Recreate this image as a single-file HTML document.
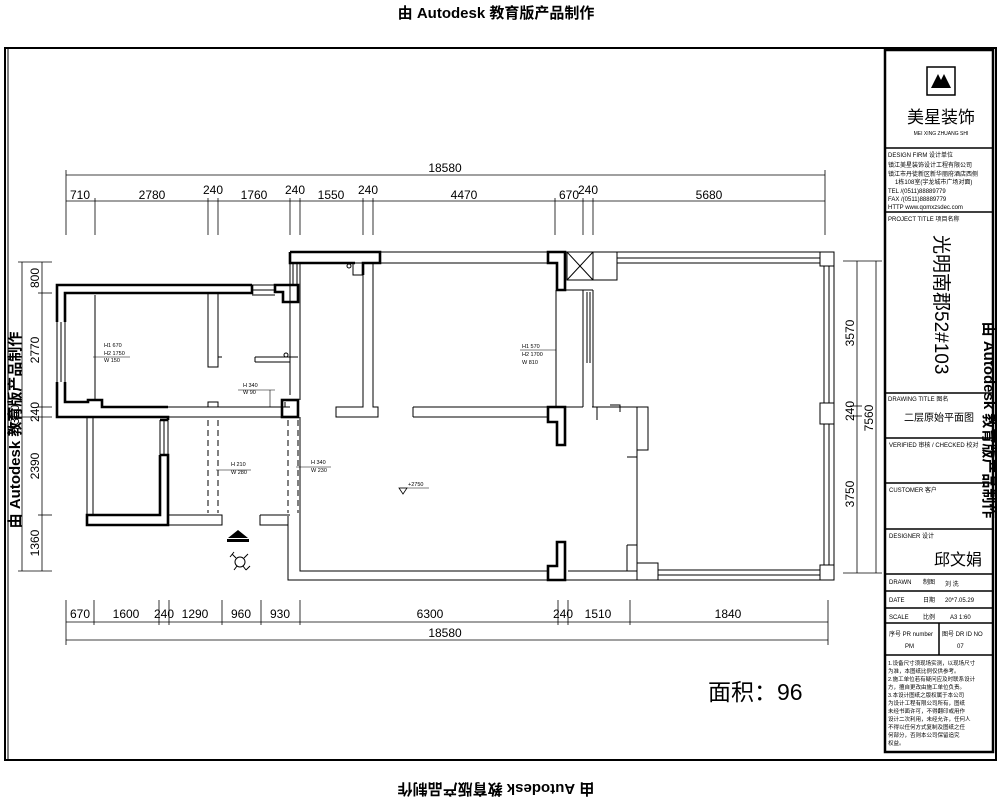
<!DOCTYPE html>
<html><head><meta charset="utf-8">
<style>
html,body{margin:0;padding:0;background:#fff;}
svg{display:block;}
text{font-family:"Liberation Sans","Noto Sans CJK SC",sans-serif;fill:#000;}
.t{font-family:"Liberation Serif","Noto Serif CJK SC",serif;}
</style></head><body>
<svg width="1000" height="800" viewBox="0 0 1000 800" xmlns="http://www.w3.org/2000/svg">
<text x="496" y="18" font-size="15" font-weight="bold" text-anchor="middle">由 Autodesk 教育版产品制作</text>
<text transform="translate(496,784) rotate(180)" font-size="15" font-weight="bold" text-anchor="middle">由 Autodesk 教育版产品制作</text>
<text transform="translate(20,430) rotate(-90)" font-size="15" font-weight="bold" text-anchor="middle">由 Autodesk 教育版产品制作</text>
<text transform="translate(984,420) rotate(90)" font-size="15" font-weight="bold" text-anchor="middle">由 Autodesk 教育版产品制作</text>

<g fill="none" stroke="#000">
<rect x="5" y="48" width="991" height="712" stroke-width="2"/>
<line x1="8" y1="48" x2="8" y2="760" stroke-width="1"/>
<rect x="885" y="50" width="108" height="702" stroke-width="2.5"/>
</g>
<g stroke="#000" stroke-width="1.5">
<line x1="885" y1="148" x2="993" y2="148"/>
<line x1="885" y1="212" x2="993" y2="212"/>
<line x1="885" y1="393" x2="993" y2="393"/>
<line x1="885" y1="438" x2="993" y2="438"/>
<line x1="885" y1="483" x2="993" y2="483"/>
<line x1="885" y1="529" x2="993" y2="529"/>
<line x1="885" y1="574" x2="993" y2="574"/>
<line x1="885" y1="591" x2="993" y2="591"/>
<line x1="885" y1="608" x2="993" y2="608"/>
<line x1="885" y1="623" x2="993" y2="623"/>
<line x1="885" y1="655" x2="993" y2="655"/>
<line x1="939" y1="623" x2="939" y2="655"/>
</g>
<rect x="927" y="67" width="28" height="28" fill="none" stroke="#000" stroke-width="1.5"/>
<path d="M931 88 L938 74 L941 80 L944 74 L951 88 Z" fill="#000"/>
<text x="941" y="123" font-size="17" text-anchor="middle">美星装饰</text>
<text x="941" y="135" font-size="5" text-anchor="middle">MEI XING ZHUANG SHI</text>
<g font-size="6">
<text x="888" y="157">DESIGN FIRM 设计单位</text>
<text x="888" y="167">镇江美星装饰设计工程有限公司</text>
<text x="888" y="176">镇江市丹徒新区新华丽府酒店西侧</text>
<text x="895" y="184">1栋108室(宇龙城市广场对面)</text>
<text x="888" y="193">TEL /(0511)88889779</text>
<text x="888" y="201">FAX /(0511)88889779</text>
<text x="888" y="209">HTTP www.qomxzsdec.com</text>
<text x="888" y="221">PROJECT TITLE 项目名称</text>
<text x="888" y="401">DRAWING TITLE 图名</text>
<text x="889" y="447">VERIFIED 审核 / CHECKED 校对</text>
<text x="889" y="492">CUSTOMER 客户</text>
<text x="889" y="538">DESIGNER 设计</text>
<text x="889" y="584">DRAWN</text><text x="923" y="584">制图</text><text x="945" y="586">刘 洗</text>
<text x="889" y="602">DATE</text><text x="923" y="602">日期</text><text x="945" y="602">20*7.05.29</text>
<text x="889" y="619">SCALE</text><text x="923" y="619">比例</text><text x="950" y="619">A3 1:60</text>
<text x="889" y="636">序号 PR number</text><text x="942" y="636">图号 DR ID NO</text>
<text x="905" y="648">PM</text><text x="957" y="648">07</text>
</g>
<text transform="translate(935,235) rotate(90)" font-size="19">光明南郡52#103</text>
<text x="939" y="421" font-size="10" text-anchor="middle">二层原始平面图</text>
<text x="958" y="565" font-size="16" text-anchor="middle">邱文娟</text>
<g font-size="5.5">
<text x="888" y="665">1.设备尺寸须现场实测，以现场尺寸</text>
<text x="888" y="673">为准，本图纸比例仅供参考。</text>
<text x="888" y="681">2.施工单位若有疑问应及时联系设计</text>
<text x="888" y="689">方，擅自更改由施工单位负责。</text>
<text x="888" y="697">3.本设计图纸之版权属于本公司</text>
<text x="888" y="705">为设计工程有限公司所有，图纸</text>
<text x="888" y="713">未经书面许可，不得翻印或用作</text>
<text x="888" y="721">设计二次利用，未经允许，任何人</text>
<text x="888" y="729">不得以任何方式复制及图纸之任</text>
<text x="888" y="737">何部分，否则本公司保留追究</text>
<text x="888" y="745">权益。</text>
</g>
<text x="708" y="700" font-size="23">面积：96</text>

<g stroke="#000" stroke-width="0.8" fill="none">
<line x1="66" y1="175" x2="825" y2="175"/>
<line x1="66" y1="201" x2="825" y2="201"/>
<line x1="66" y1="170" x2="66" y2="235"/><line x1="825" y1="170" x2="825" y2="235"/>
<line x1="95" y1="198" x2="95" y2="235"/><line x1="208" y1="198" x2="208" y2="235"/>
<line x1="218" y1="198" x2="218" y2="235"/><line x1="290" y1="198" x2="290" y2="235"/>
<line x1="300" y1="198" x2="300" y2="235"/><line x1="363" y1="198" x2="363" y2="235"/>
<line x1="373" y1="198" x2="373" y2="235"/><line x1="555" y1="198" x2="555" y2="235"/>
<line x1="583" y1="198" x2="583" y2="235"/><line x1="593" y1="198" x2="593" y2="235"/>
<line x1="66" y1="622" x2="828" y2="622"/>
<line x1="66" y1="640" x2="828" y2="640"/>
<line x1="66" y1="600" x2="66" y2="645"/><line x1="828" y1="600" x2="828" y2="645"/>
<line x1="94" y1="600" x2="94" y2="625"/><line x1="159" y1="600" x2="159" y2="625"/>
<line x1="169" y1="600" x2="169" y2="625"/><line x1="222" y1="600" x2="222" y2="625"/>
<line x1="261" y1="600" x2="261" y2="625"/><line x1="300" y1="600" x2="300" y2="625"/>
<line x1="558" y1="600" x2="558" y2="625"/><line x1="568" y1="600" x2="568" y2="625"/>
<line x1="630" y1="600" x2="630" y2="625"/>
<line x1="22" y1="262" x2="22" y2="571"/><line x1="42" y1="262" x2="42" y2="571"/>
<line x1="18" y1="262" x2="52" y2="262"/><line x1="38" y1="293" x2="52" y2="293"/>
<line x1="38" y1="407" x2="52" y2="407"/><line x1="18" y1="417" x2="52" y2="417"/>
<line x1="38" y1="515" x2="52" y2="515"/><line x1="18" y1="571" x2="52" y2="571"/>
<line x1="857" y1="261" x2="857" y2="573"/><line x1="876" y1="261" x2="876" y2="573"/>
<line x1="843" y1="261" x2="882" y2="261"/><line x1="843" y1="573" x2="882" y2="573"/>
<line x1="850" y1="406" x2="862" y2="406"/><line x1="850" y1="416" x2="862" y2="416"/>
</g>
<g class="t" font-size="12" text-anchor="middle">
<text x="445" y="172">18580</text>
<text x="80" y="199">710</text><text x="152" y="199">2780</text><text x="213" y="194">240</text>
<text x="254" y="199">1760</text><text x="295" y="194">240</text><text x="331" y="199">1550</text>
<text x="368" y="194">240</text><text x="464" y="199">4470</text><text x="569" y="199">670</text>
<text x="588" y="194">240</text><text x="709" y="199">5680</text>
<text x="80" y="618">670</text><text x="126" y="618">1600</text><text x="164" y="618">240</text>
<text x="195" y="618">1290</text><text x="241" y="618">960</text><text x="280" y="618">930</text>
<text x="430" y="618">6300</text><text x="563" y="618">240</text><text x="598" y="618">1510</text>
<text x="728" y="618">1840</text><text x="445" y="637">18580</text>
<text transform="translate(39,278) rotate(-90)">800</text>
<text transform="translate(39,350) rotate(-90)">2770</text>
<text transform="translate(39,412) rotate(-90)">240</text>
<text transform="translate(39,466) rotate(-90)">2390</text>
<text transform="translate(39,543) rotate(-90)">1360</text>
<text transform="translate(19,418) rotate(-90)">7360</text>
<text transform="translate(854,333) rotate(-90)">3570</text>
<text transform="translate(854,411) rotate(-90)">240</text>
<text transform="translate(854,494) rotate(-90)">3750</text>
<text transform="translate(873,418) rotate(-90)">7560</text>
</g>

<g stroke="#000" stroke-width="1" fill="none">
<path d="M380 252 H820 M380 263 H557"/>
<path d="M290 252 V395 M300 263 V400"/>
<path d="M300 417 V571 H548 M288 516 V580 H820"/>
<path d="M568 571 H637"/>
<rect x="820" y="252" width="14" height="14"/>
<rect x="820" y="403" width="14" height="21"/>
<rect x="820" y="565" width="14" height="15"/>
<line x1="834" y1="266" x2="834" y2="565"/><line x1="829" y1="266" x2="829" y2="403"/>
<line x1="824" y1="266" x2="824" y2="403"/><line x1="829" y1="424" x2="829" y2="565"/>
<line x1="824" y1="424" x2="824" y2="565"/>
<line x1="617" y1="258" x2="820" y2="258"/><line x1="617" y1="263" x2="820" y2="263"/>
<line x1="658" y1="570" x2="820" y2="570"/><line x1="658" y1="575" x2="820" y2="575"/>
<rect x="593" y="252" width="24" height="28"/>
<rect x="637" y="563" width="21" height="17"/>
<path d="M637 407 V580 M592 407 H648 V450 H637 M627 457 H637 M627 545 H637 V563 M627 545 V571"/>
<path d="M597 407 V420 M610 405 H620 V412"/>
<rect x="567" y="252" width="26" height="28"/>
<line x1="567" y1="252" x2="593" y2="280"/><line x1="593" y1="252" x2="567" y2="280"/>
<path d="M565 290 H593 M556 290 V407 M583 290 V407 M593 290 V407 M587 292 V363 M590 292 V363"/>
<path d="M363 263 V407 H336 V417 H378 V407 H373 V263"/>
<path d="M413 407 H548 M413 417 H548 M413 407 V417 M565 407 H583"/>
<path d="M290 263 H300 M293 263 V285 M297 263 V285"/>
<rect x="353" y="263" width="10" height="12"/>
<circle cx="349" cy="266" r="2"/>
<path d="M95 295 V400"/>
<path d="M208 293 V367 H218 V357 H222 M218 293 V357"/>
<path d="M255 357 H298 M255 362 H290 M255 357 V362"/>
<circle cx="286" cy="355" r="2"/>
<path d="M252 285 H275 M252 290 H275 M252 295 H275"/>
<path d="M57 322 V382 M61 322 V382 M65 322 V382"/>
<path d="M168 407 H208 V402 H218 V407 M168 417 H298 M168 407 H290" />
<path d="M87 417 V515 M93 417 V515"/>
<path d="M160 420 V455 M164 420 V455 M168 420 V455"/>
<path d="M168 515 H222 V525 H168 M260 515 H290 M260 515 V525 H288"/>
<path d="M265 407 H285 V402" />
</g>
<g stroke="#000" stroke-width="1" stroke-dasharray="6,4" fill="none">
<path d="M220 407 H282 M220 417 H282 M208 420 V513 M218 420 V513 M288 420 V513 M298 420 V513"/>
</g>
<g stroke="#000" stroke-width="2.6" fill="none" stroke-linejoin="miter">
<path d="M252 285 H57 V322 M57 382 V417 H168 V420 M65 322 V293 H252 V285 M65 382 V402 H88 V400 H102 V407 H168"/>
<path d="M160 420 H168 M160 455 H168 V525 H87 V515 H160 V455"/>
<path d="M275 285 H298 V302 H283 V292 H275 Z"/>
<rect x="282" y="400" width="16" height="17"/>
<path d="M290 252 H380 V263 H363 V275 M290 252 V263 H355"/>
<path d="M548 252 H565 V290 H557 V263 H548 Z"/>
<path d="M548 407 H565 V445 H557 V422 H548 Z"/>
<path d="M557 542 H565 V580 H548 V566 H557 Z"/>
</g>
<g font-size="5.5">
<text x="104" y="347">H1 670</text><text x="104" y="355">H2 1750</text><text x="104" y="362">W 150</text>
<line x1="93" y1="357" x2="130" y2="357" stroke="#000" stroke-width="0.6"/>
<text x="243" y="387">H 340</text><text x="243" y="394">W 90</text>
<line x1="238" y1="390" x2="275" y2="390" stroke="#000" stroke-width="0.6"/>
<line x1="270" y1="390" x2="270" y2="407" stroke="#000" stroke-width="0.6"/>
<text x="231" y="466">H 210</text><text x="231" y="474">W 280</text>
<line x1="216" y1="470" x2="251" y2="470" stroke="#000" stroke-width="0.6"/>
<text x="311" y="464">H 340</text><text x="311" y="472">W 230</text>
<line x1="296" y1="467" x2="331" y2="467" stroke="#000" stroke-width="0.6"/>
<text x="522" y="348">H1 570</text><text x="522" y="356">H2 1700</text><text x="522" y="364">W 810</text>
<line x1="520" y1="350" x2="556" y2="350" stroke="#000" stroke-width="0.6"/>
<text x="408" y="486">+2750</text>
<line x1="400" y1="488" x2="429" y2="488" stroke="#000" stroke-width="0.6"/>
</g>
<path d="M399 488 L407 488 L403 494 Z" fill="none" stroke="#000" stroke-width="0.8"/>
<path d="M228 538 L238 530 L248 538 Z" fill="#000"/>
<rect x="227" y="539" width="22" height="3" fill="#000"/>
<g stroke="#000" stroke-width="1" fill="none">
<circle cx="240" cy="562" r="5"/>
<path d="M232 554 L236 558 M248 554 L244 558 M234 570 L237 566 M246 570 L243 566 M230 557 L234 552 M250 566 L246 570"/>
</g>
</svg>
</body></html>
